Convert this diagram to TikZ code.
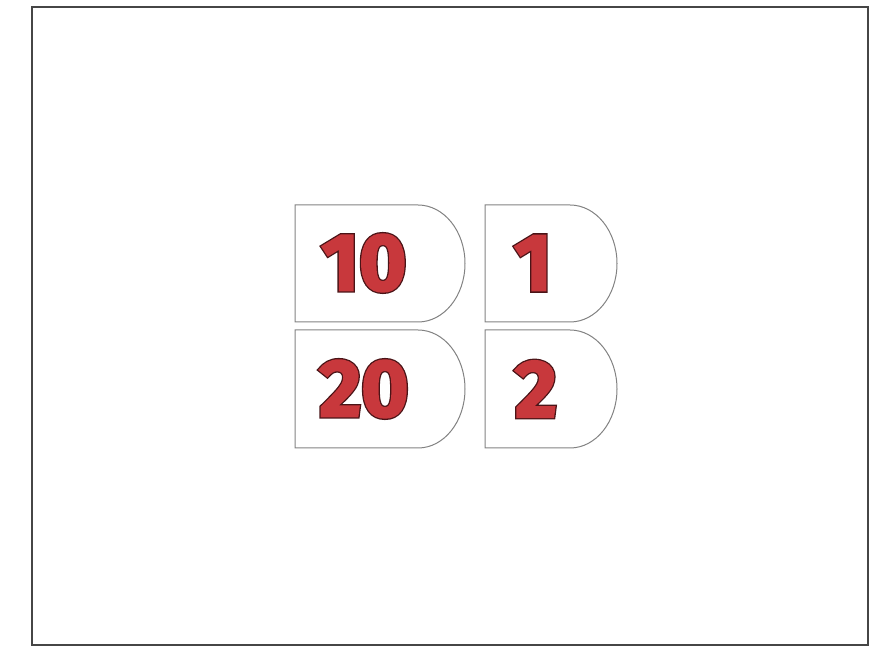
\documentclass[tikz,border=0pt]{standalone}
\usepackage{fontspec}
\setmainfont{Fira Sans}
\usepackage{tikz}
\definecolor{numred}{RGB}{200,56,60}
\definecolor{tabgray}{RGB}{130,130,130}
\definecolor{framegray}{RGB}{70,70,70}
% heavy digits: dark rim below, red body on top
\newcommand{\rim}[1]{\special{pdf:literal direct 0.29 0.08 0.09 RG 4.8 w 0 j 4 M 2 Tr}#1\special{pdf:literal direct 0 Tr}}
\newcommand{\body}[1]{\special{pdf:literal direct 0.784 0.22 0.235 RG 2.2 w 0 j 4 M 2 Tr}#1\special{pdf:literal direct 0 Tr}}

\begin{document}
\begin{tikzpicture}[x=1pt, y=1pt,
					tab/.style={draw=tabgray, line width=1pt},
					num/.style={text=numred, font=\fontsize{81}{81}\bfseries\selectfont, inner sep=0pt}]
					\useasboundingbox (0,0) rectangle (871,648);
					\draw[framegray, line width=2.5pt] (32,3) rectangle (868,641);
					% upper row
					\draw[tab] (295,326) -- (295,443) -- (418,443) arc[start angle=90, end angle=-90, x radius=47, y radius=58.5] -- cycle;
					\draw[tab] (485,326) -- (485,443) -- (570,443) arc[start angle=90, end angle=-90, x radius=47, y radius=58.5] -- cycle;
					% lower row
					\draw[tab] (295,200) -- (295,318) -- (418,318) arc[start angle=90, end angle=-90, x radius=47, y radius=59] -- cycle;
					\draw[tab] (485,200) -- (485,318) -- (570,318) arc[start angle=90, end angle=-90, x radius=47, y radius=59] -- cycle;
					\node[num] (ten) at (364,385) {\rim{10}};
					\node[num] at (ten) {\body{10}};
					\node[num] (one) at (533,385) {\rim{1}};
					\node[num] at (one) {\body{1}};
					\node[num] (twenty) at (364,259) {\rim{20}};
					\node[num] at (twenty) {\body{20}};
					\node[num] (two) at (536,259) {\rim{2}};
					\node[num] at (two) {\body{2}};
				\end{tikzpicture}
\end{document}
